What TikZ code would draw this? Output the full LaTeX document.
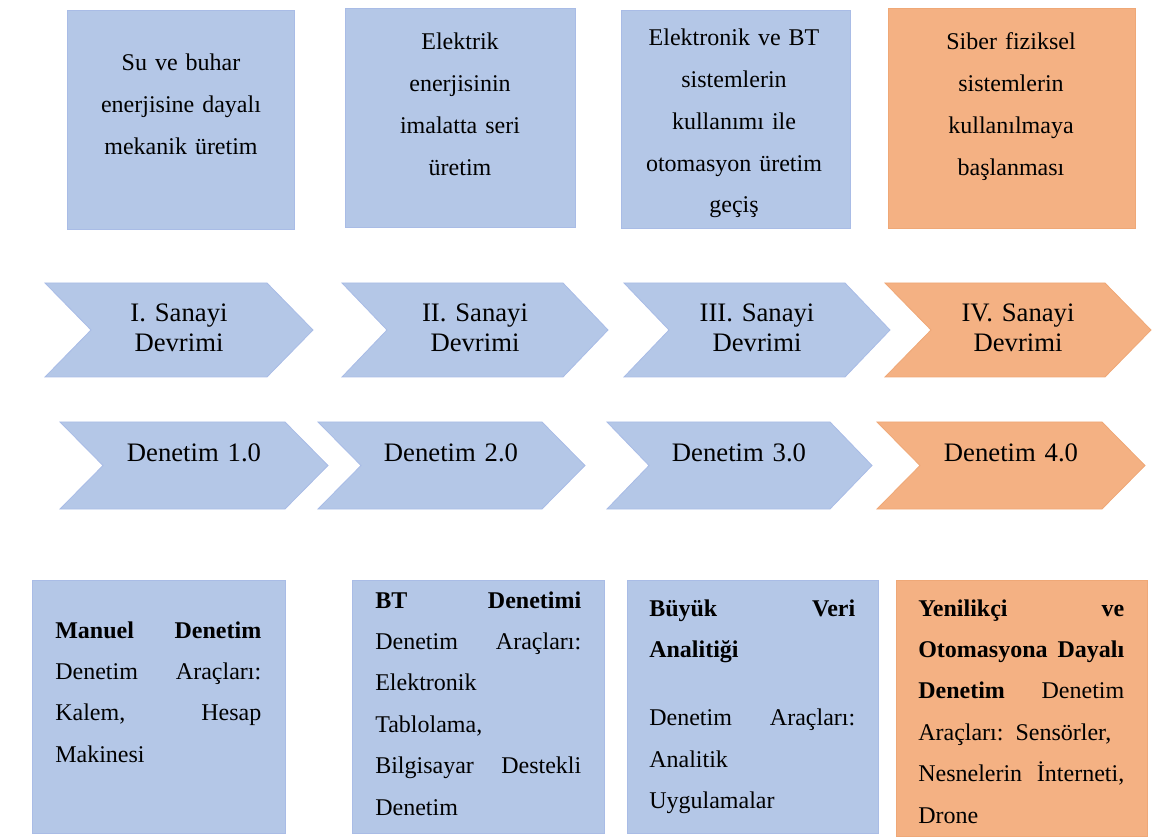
\documentclass[tikz,border=0pt]{standalone}
\usepackage{fontspec}
\setmainfont{Liberation Serif}
\definecolor{devblue}{HTML}{B4C7E7}
\definecolor{devorange}{HTML}{F4B183}
\definecolor{edgeblue}{HTML}{A9BCE6}
\definecolor{edgeorange}{HTML}{EFA877}
% justified line of a paragraph
\newcommand{\jline}[1]{\leavevmode\hbox to 154.5pt{\spaceskip=0.25em plus 10em\relax #1}}
% chevron: left, top, width, height, depth, style
\newcommand{\chevron}[6]{%
  \filldraw[#6] (#1,#2) -- ++(#3-#5,0) -- ++(#5,#4/2) -- ++(-#5,#4/2)
    -- ++(-#3+#5,0) -- ++(#5,-#4/2) -- cycle;}
\begin{document}
\begin{tikzpicture}[x=0.75pt,y=-0.75pt,
    bluefill/.style={fill=devblue,draw=edgeblue,line width=0.6pt},
    orangefill/.style={fill=devorange,draw=edgeorange,line width=0.6pt},
    toptext/.style={text width=150pt,align=center,inner sep=0pt,anchor=base,
      font=\fontsize{18}{31.3}\selectfont},
    chevtext/.style={text width=170pt,align=center,inner sep=0pt,anchor=base,
      font=\fontsize{20}{22.5}\selectfont},
    tooltext/.style={text width=154.5pt,align=left,inner sep=0pt,anchor=base west,
      font=\fontsize{18}{31.1}\selectfont}]
  \useasboundingbox (0,0) rectangle (1152,837);
  % top boxes
  \filldraw[bluefill] (67,10) rectangle (294,229);
  \filldraw[bluefill] (345,8) rectangle (575,227);
  \filldraw[bluefill] (621,10) rectangle (850,228);
  \filldraw[orangefill] (888,8) rectangle (1135,228);
  \node[toptext] (era1) at (181,71) {Su ve buhar\\ enerjisine dayalı\\ mekanik üretim};
  \node[toptext] (era2) at (460,50) {Elektrik\\ enerjisinin\\ imalatta seri\\ üretim};
  \node[toptext] (era3) at (734,46) {Elektronik ve BT\\ sistemlerin\\ kullanımı ile\\ otomasyon üretim\\ geçiş};
  \node[toptext] (era4) at (1011,50) {Siber fiziksel\\ sistemlerin\\ kullanılmaya\\ başlanması};
  % revolutions
  \chevron{45}{283}{268}{94}{46}{bluefill}
  \chevron{342}{283}{266}{94}{45}{bluefill}
  \chevron{624}{283}{266}{94}{45}{bluefill}
  \chevron{885}{283}{266}{94}{46}{orangefill}
  \node[chevtext] (rev1) at (179,322) {I. Sanayi\\ Devrimi};
  \node[chevtext] (rev2) at (475,322) {II. Sanayi\\ Devrimi};
  \node[chevtext] (rev3) at (757,322) {III. Sanayi\\ Devrimi};
  \node[chevtext] (rev4) at (1018,322) {IV. Sanayi\\ Devrimi};
  % audit stages
  \chevron{60}{422}{268}{87}{43}{bluefill}
  \chevron{318}{422}{267}{87}{43}{bluefill}
  \chevron{607}{422}{265}{87}{42}{bluefill}
  \chevron{877}{422}{268}{87}{43}{orangefill}
  \node[chevtext] (aud1) at (194,461) {Denetim 1.0};
  \node[chevtext] (aud2) at (451,461) {Denetim 2.0};
  \node[chevtext] (aud3) at (739,461) {Denetim 3.0};
  \node[chevtext] (aud4) at (1011,461) {Denetim 4.0};
  % bottom boxes
  \filldraw[bluefill] (32,580) rectangle (285,833);
  \filldraw[bluefill] (352,580) rectangle (604,833);
  \filldraw[bluefill] (627,580) rectangle (878,833);
  \filldraw[orangefill] (896,580) rectangle (1147,836);
  \node[tooltext] (tool1) at (55,638) {\jline{\textbf{Manuel} \textbf{Denetim}}\\
    \jline{Denetim Araçları:}\\ \jline{Kalem, Hesap}\\ Makinesi};
  \begin{scope}
    \clip (352,580) rectangle (604,823);
    \node[tooltext] (tool2) at (375,608) {\jline{\textbf{BT} \textbf{Denetimi}}\\
      \jline{Denetim Araçları:}\\ Elektronik\\ Tablolama,\\
      \jline{Bilgisayar Destekli}\\ Denetim};
  \end{scope}
  \node[tooltext] (tool3) at (649,616) {\jline{\textbf{Büyük} \textbf{Veri}}\\
    \textbf{Analitiği}\\[20pt] \jline{Denetim Araçları:}\\ Analitik\\ Uygulamalar};
  \node[tooltext] (tool4) at (918,616) {\jline{\textbf{Yenilikçi} \textbf{ve}}\\
    \jline{\textbf{Otomasyona} \textbf{Dayalı}}\\ \jline{\textbf{Denetim} Denetim}\\
    \jline{Araçları: Sensörler,}\\ \jline{Nesnelerin İnterneti,}\\ Drone};
\end{tikzpicture}
\end{document}
